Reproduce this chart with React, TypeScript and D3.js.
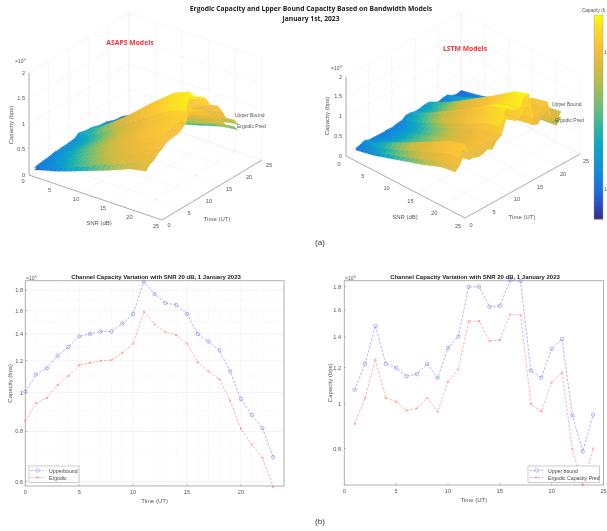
import React from "react";
import * as d3 from "d3";

const title1 = "Ergodic Capacity and Lpper Bound Capacity Based on Bandwidth Models";
const title2 = "January 1st, 2023";
const lineTitle = "Channel Capacity Variation with SNR 20 dB, 1 January 2023";

const snrRows = [1, 5, 10, 15, 19, 22];
const hoursA = d3.range(0, 24);
const hoursB = d3.range(1, 25);

// Line charts (x 10^9 bps)
const upperA = [1.005,1.11,1.15,1.236,1.30,1.38,1.40,1.42,1.42,1.486,1.57,1.89,1.76,1.67,1.654,1.57,1.40,1.34,1.275,1.13,0.964,0.88,0.815,0.69];
const ergodicA = [0.85,0.94,0.97,1.045,1.10,1.17,1.186,1.20,1.205,1.256,1.325,1.59,1.48,1.414,1.39,1.325,1.19,1.13,1.08,0.955,0.813,0.742,0.687,0.582];
const upperB = [1.074,1.224,1.48,1.224,1.20,1.15,1.162,1.222,1.141,1.324,1.403,1.80,1.80,1.628,1.636,1.857,1.851,1.182,1.141,1.319,1.385,0.945,0.789,0.948];
const ergodicB = [0.906,1.03,1.25,1.032,1.012,0.969,0.979,1.03,0.962,1.118,1.19,1.515,1.515,1.373,1.378,1.567,1.562,1.0,0.964,1.115,1.17,0.798,0.667,0.80];

// Surfaces: one row per SNR value
const asapsUpper = [
  [.18,.20,.21,.22,.23,.25,.25,.26,.26,.27,.28,.34,.32,.30,.30,.28,.25,.24,.23,.20,.17,.16,.15,.12],
  [.31,.34,.36,.38,.40,.43,.43,.44,.44,.46,.49,.59,.55,.52,.51,.49,.43,.42,.40,.35,.30,.27,.25,.21],
  [.52,.58,.60,.64,.68,.72,.73,.74,.74,.77,.82,.98,.92,.87,.86,.82,.73,.70,.67,.59,.50,.46,.43,.36],
  [.76,.84,.87,.94,.98,1.04,1.06,1.07,1.07,1.12,1.19,1.43,1.33,1.26,1.25,1.19,1.06,1.01,.97,.85,.72,.66,.62,.52],
  [.93,1.03,1.07,1.15,1.21,1.28,1.30,1.32,1.32,1.38,1.46,1.76,1.64,1.55,1.53,1.46,1.30,1.25,1.19,1.05,.89,.82,.76,.64],
  [1.00,1.11,1.15,1.24,1.30,1.38,1.40,1.42,1.42,1.49,1.57,1.89,1.76,1.67,1.65,1.57,1.40,1.34,1.28,1.13,.96,.88,.82,.69],
];
const asapsErgodic = [
  [.14,.16,.16,.18,.19,.20,.20,.20,.21,.21,.23,.27,.25,.24,.24,.23,.20,.19,.18,.16,.14,.13,.12,.10],
  [.25,.27,.28,.30,.32,.34,.35,.35,.35,.37,.39,.46,.43,.41,.40,.39,.35,.33,.31,.28,.23,.21,.20,.17],
  [.43,.47,.49,.53,.55,.59,.60,.60,.61,.63,.67,.80,.74,.71,.70,.67,.60,.57,.54,.48,.41,.37,.35,.29],
  [.62,.69,.71,.77,.80,.85,.87,.88,.88,.92,.97,1.16,1.08,1.03,1.01,.97,.87,.82,.79,.70,.59,.54,.50,.42],
  [.79,.87,.90,.98,1.02,1.09,1.11,1.12,1.13,1.17,1.24,1.48,1.38,1.31,1.29,1.24,1.11,1.05,1.00,.89,.75,.69,.64,.54],
  [.85,.94,.97,1.05,1.10,1.17,1.19,1.20,1.21,1.26,1.33,1.59,1.48,1.41,1.39,1.33,1.19,1.13,1.08,.96,.81,.74,.69,.58],
];
const lstmUpper = [
  [.19,.22,.27,.22,.22,.21,.21,.22,.21,.24,.25,.32,.32,.29,.30,.33,.33,.21,.21,.24,.25,.17,.14,.17],
  [.33,.38,.46,.38,.37,.36,.36,.38,.35,.41,.43,.56,.56,.51,.51,.58,.57,.37,.35,.41,.43,.29,.24,.29],
  [.56,.63,.77,.63,.62,.60,.60,.63,.59,.69,.73,.94,.94,.85,.85,.97,.96,.61,.59,.69,.72,.49,.41,.49],
  [.79,.90,1.10,.90,.89,.85,.86,.90,.84,.98,1.04,1.33,1.33,1.21,1.21,1.38,1.37,.87,.84,.98,1.03,.70,.58,.70],
  [1.00,1.13,1.38,1.13,1.12,1.07,1.08,1.13,1.06,1.23,1.30,1.67,1.67,1.52,1.53,1.73,1.72,1.10,1.06,1.23,1.29,.88,.73,.88],
  [1.07,1.22,1.48,1.22,1.20,1.15,1.16,1.22,1.14,1.32,1.40,1.80,1.80,1.63,1.64,1.86,1.85,1.18,1.14,1.32,1.39,.95,.79,.95],
];
const lstmErgodic = [
  [.15,.18,.21,.18,.17,.16,.17,.18,.16,.19,.20,.26,.26,.23,.23,.27,.27,.17,.16,.19,.20,.14,.11,.14],
  [.26,.30,.36,.30,.29,.28,.28,.30,.28,.32,.35,.44,.44,.40,.40,.46,.45,.29,.28,.32,.34,.23,.19,.23],
  [.46,.52,.63,.52,.51,.49,.49,.52,.48,.56,.60,.76,.76,.69,.69,.79,.78,.50,.48,.56,.59,.40,.34,.40],
  [.66,.75,.91,.75,.74,.71,.72,.75,.70,.82,.87,1.11,1.11,1.00,1.01,1.15,1.14,.73,.70,.82,.85,.58,.49,.58],
  [.85,.96,1.16,.96,.94,.90,.91,.96,.89,1.04,1.11,1.41,1.41,1.27,1.28,1.46,1.45,.93,.89,1.04,1.09,.74,.62,.74],
  [.91,1.03,1.25,1.03,1.01,.97,.98,1.03,.96,1.12,1.19,1.52,1.52,1.37,1.38,1.57,1.56,1.00,.96,1.12,1.17,.80,.67,.80],
];

const axis3dTicks = [0, 5, 10, 15, 20, 25];
const zTicks = [0, 0.5, 1, 1.5, 2];
const logTicks = [0.6, 0.8, 1, 1.2, 1.4, 1.6, 1.8];
const logMinor = [0.6, 0.7, 0.8, 0.9, 1, 1.1, 1.2, 1.3, 1.4, 1.5, 1.6, 1.7, 1.8];

const parulaStops = ["#352a87","#2c58d8","#0f7fe0","#1496d4","#06a9c1","#32b7a0","#6bbf7a","#a3bd55","#d1ba3c","#f8ba3e","#fcd22f","#f9fb0e"];
const parula = d3.interpolateRgbBasis(parulaStops);
const colorDomain = [0.1, 0.18, 0.3, 0.45, 0.6, 0.8, 1.2, 1.5, 1.85];
const colorRange = [0.08, 0.15, 0.25, 0.42, 0.56, 0.72, 0.83, 0.9, 1];
const logPos = d3.scaleLog().domain(colorDomain).range(colorRange).clamp(true);
const colorOf = (z: number) => parula(logPos(z));

const FONT = "'Liberation Sans', Arial, sans-serif";
const TXT = "#555";

type Box3 = {
  ox: number; oy: number; sx: number; sy: number; tx: number; ty: number; zk: number;
  snrOff: [number, number]; timeOff: [number, number]; zLabelX: number;
};

function Surface3D({ box, hours, surfaces }: { box: Box3; hours: number[]; surfaces: number[][][] }) {
  const snrX = d3.scaleLinear().domain([0, 25]).range([0, box.sx]);
  const snrY = d3.scaleLinear().domain([0, 25]).range([0, box.sy]);
  const timeX = d3.scaleLinear().domain([0, 25]).range([0, box.tx]);
  const timeY = d3.scaleLinear().domain([0, 25]).range([0, box.ty]);
  const zY = d3.scaleLinear().domain([0, 2]).range([0, box.zk]);
  const P = (s: number, t: number, z: number): [number, number] => [
    box.ox + snrX(s) + timeX(t),
    box.oy + snrY(s) + timeY(t) - zY(z),
  ];
  const ln = (a: [number, number], b: [number, number], stroke: string, key: string, w = 0.6) => (
    <line key={key} x1={a[0]} y1={a[1]} x2={b[0]} y2={b[1]} stroke={stroke} strokeWidth={w} />
  );
  const grid = "#f0f0f0";
  const gridEls: React.ReactNode[] = [];
  axis3dTicks.forEach((v) => {
    gridEls.push(ln(P(v, 0, 0), P(v, 25, 0), grid, `fs${v}`));
    gridEls.push(ln(P(0, v, 0), P(25, v, 0), grid, `ft${v}`));
    gridEls.push(ln(P(0, v, 0), P(0, v, 2), grid, `wt${v}`));
    gridEls.push(ln(P(v, 25, 0), P(v, 25, 2), grid, `ws${v}`));
  });
  zTicks.forEach((z) => {
    gridEls.push(ln(P(0, 0, z), P(0, 25, z), grid, `zl${z}`));
    gridEls.push(ln(P(0, 25, z), P(25, 25, z), grid, `zr${z}`));
  });

  type Facet = { d: string; fill: string; key: number };
  const facets: Facet[] = [];
  const path = d3.line();
  const snrSteps = 5;
  surfaces.forEach((rows, si) => {
    for (let r = 0; r < snrRows.length - 1; r++) {
      for (let c = 0; c < hours.length - 1; c++) {
        for (let k = 0; k < snrSteps; k++) {
          const f0 = k / snrSteps, f1 = (k + 1) / snrSteps;
          const s0 = d3.interpolateNumber(snrRows[r], snrRows[r + 1])(f0);
          const s1 = d3.interpolateNumber(snrRows[r], snrRows[r + 1])(f1);
          const z00 = d3.interpolateNumber(rows[r][c], rows[r + 1][c])(f0);
          const z10 = d3.interpolateNumber(rows[r][c], rows[r + 1][c])(f1);
          const z01 = d3.interpolateNumber(rows[r][c + 1], rows[r + 1][c + 1])(f0);
          const z11 = d3.interpolateNumber(rows[r][c + 1], rows[r + 1][c + 1])(f1);
          const d = path([
            P(s0, hours[c], z00), P(s1, hours[c], z10),
            P(s1, hours[c + 1], z11), P(s0, hours[c + 1], z01),
          ])! + "Z";
          facets.push({
            d,
            fill: colorOf((z00 + z10 + z01 + z11) / 4),
            key: hours[c] - (s0 * 22) / 24 - si * 0.001,
          });
        }
      }
    }
  });
  facets.sort((a, b) => b.key - a.key);

  const axisColor = "#9a9a9a";
  const txt = (x: number, y: number, s: React.ReactNode, anchor = "middle", key?: string) => (
    <text key={key} x={x} y={y} fontSize={5.6} fill={TXT} textAnchor={anchor as any} fontFamily={FONT}>{s}</text>
  );
  return (
    <g>
      {gridEls}
      {ln(P(0, 0, 0), P(25, 0, 0), axisColor, "axS", 0.8)}
      {ln(P(25, 0, 0), P(25, 25, 0), axisColor, "axT", 0.8)}
      {ln(P(0, 0, 0), P(0, 0, 2), axisColor, "axZ", 0.8)}
      {axis3dTicks.map((v) => {
        const a = P(v, 0, 0);
        const b = P(25, v, 0);
        return (
          <g key={v}>
            {txt(a[0] + box.snrOff[0], a[1] + box.snrOff[1], v, "middle")}
            {txt(b[0] + box.timeOff[0], b[1] + box.timeOff[1], v, "middle")}
          </g>
        );
      })}
      {zTicks.map((z) => txt(box.zLabelX, P(0, 0, z)[1] + 1.5, z, "end", `z${z}`))}
      {facets.map((f, i) => (
        <path key={i} d={f.d} fill={f.fill} stroke={f.fill} strokeWidth={0.25} />
      ))}
    </g>
  );
}

const boxA: Box3 = { ox: 29, oy: 175, sx: 133, sy: 45, tx: 100, ty: -60, zk: 102, snrOff: [-6, 8], timeOff: [7, 7], zLabelX: 25 };
const boxB: Box3 = { ox: 346, oy: 156, sx: 119, sy: 62, tx: 115, ty: -64, zk: 79, snrOff: [-7, 9.5], timeOff: [6, 9], zLabelX: 342 };

function Exp({ x, y }: { x: number; y: number }) {
  return (
    <text x={x} y={y} fontSize={5} fill={TXT} fontFamily={FONT}>
      ×10<tspan dy={-2} fontSize={3.8}>9</tspan>
    </text>
  );
}

type LineProps = {
  x0: number; x1: number; y0: number; y1: number;
  xMax: number; yDom: [number, number]; hours: number[];
  upper: number[]; ergodic: number[]; grid: boolean;
  labels: [string, string]; legend: [number, number, number, number];
  titleX: number; expX: number; ylabelX: number; tickX: number;
};

function LineChart(p: LineProps) {
  const x = d3.scaleLinear().domain([0, p.xMax]).range([p.x0, p.x1]);
  const y = d3.scaleLog().domain(p.yDom).range([p.y1, p.y0]);
  const line = d3.line<number>().x((_, i) => x(p.hours[i])).y((d) => y(d));
  const xTicks = d3.range(0, p.xMax + 1, 5);
  const yTicks = logTicks.filter((v) => v >= p.yDom[0] && v <= p.yDom[1]);
  const blue = "#7d7df0";
  const red = "#ff7a7a";
  const [lx, ly, lw, lh] = p.legend;
  return (
    <g>
      {p.grid && (
        <g>
          {d3.range(0, p.xMax + 1).map((v) => (
            <line key={v} x1={x(v)} x2={x(v)} y1={p.y0} y2={p.y1} stroke={v % 5 === 0 ? "#ececec" : "#f6f6f6"} strokeWidth={0.6} />
          ))}
          {logMinor.map((v) => (
            <line key={v} y1={y(v)} y2={y(v)} x1={p.x0} x2={p.x1} stroke={logTicks.includes(v) ? "#ececec" : "#f6f6f6"} strokeWidth={0.6} />
          ))}
        </g>
      )}
      <rect x={p.x0} y={p.y0} width={p.x1 - p.x0} height={p.y1 - p.y0} fill="none" stroke="#a8a8a8" strokeWidth={0.9} />
      {xTicks.map((v) => (
        <g key={v}>
          <line x1={x(v)} x2={x(v)} y1={p.y1} y2={p.y1 - 2} stroke="#888" strokeWidth={0.5} />
          <text x={x(v)} y={p.y1 + 7.5} fontSize={5.6} fill={TXT} textAnchor="middle" fontFamily={FONT}>{v}</text>
        </g>
      ))}
      {yTicks.map((v) => (
        <g key={v}>
          <line x1={p.x0} x2={p.x0 + 2} y1={y(v)} y2={y(v)} stroke="#888" strokeWidth={0.5} />
          <text x={p.tickX} y={y(v) + 2} fontSize={5.6} fill={TXT} textAnchor="end" fontFamily={FONT}>{v}</text>
        </g>
      ))}
      <path d={line(p.upper)!} fill="none" stroke={blue} strokeWidth={0.6} strokeDasharray="2.5 1.5" />
      <path d={line(p.ergodic)!} fill="none" stroke={red} strokeWidth={0.6} strokeDasharray="2.5 1.5" />
      {p.upper.map((v, i) => (
        <circle key={i} cx={x(p.hours[i])} cy={y(v)} r={1.7} fill="none" stroke={blue} strokeWidth={0.6} />
      ))}
      {p.ergodic.map((v, i) => (
        <path key={i} d={d3.symbol(d3.symbolTimes, 3)()!} transform={`translate(${x(p.hours[i])},${y(v)})`} fill="none" stroke={red} strokeWidth={0.7} />
      ))}
      <text x={p.titleX} y={p.y0 - 1.5} fontSize={6} fontWeight="bold" fill="#222" textAnchor="middle" fontFamily={FONT}>{lineTitle}</text>
      <Exp x={p.expX} y={p.y0 - 0.7} />
      <text x={(p.x0 + p.x1) / 2} y={p.y1 + 16.5} fontSize={6} fill={TXT} textAnchor="middle" fontFamily={FONT}>Time (UT)</text>
      <text transform={`translate(${p.ylabelX},${(p.y0 + p.y1) / 2}) rotate(-90)`} fontSize={6} fill={TXT} textAnchor="middle" fontFamily={FONT}>Capacity (bps)</text>
      <rect x={lx} y={ly} width={lw} height={lh} fill="#fff" stroke="#aaa" strokeWidth={0.6} />
      <line x1={lx + 1.5} x2={lx + 15} y1={ly + 4.5} y2={ly + 4.5} stroke={blue} strokeWidth={0.6} strokeDasharray="2.5 1.5" />
      <circle cx={lx + 8.5} cy={ly + 4.5} r={1.7} fill="#fff" stroke={blue} strokeWidth={0.6} />
      <line x1={lx + 1.5} x2={lx + 15} y1={ly + 11.5} y2={ly + 11.5} stroke={red} strokeWidth={0.6} strokeDasharray="2.5 1.5" />
      <path d={d3.symbol(d3.symbolTimes, 3)()!} transform={`translate(${lx + 8.5},${ly + 11.5})`} fill="none" stroke={red} strokeWidth={0.7} />
      <text x={lx + 20} y={ly + 6.5} fontSize={5.2} fill="#444" fontFamily={FONT}>{p.labels[0]}</text>
      <text x={lx + 20} y={ly + 13.5} fontSize={5.2} fill="#444" fontFamily={FONT}>{p.labels[1]}</text>
    </g>
  );
}

function Colorbar() {
  const top = 15, bottom = 219, left = 594, right = 603;
  const pos = d3.scaleLinear().domain([bottom, top]).range([0, 1]);
  const rows = d3.range(top, bottom, 2);
  return (
    <g>
      {rows.map((yy) => (
        <rect key={yy} x={left} y={yy} width={right - left} height={2.4} fill={parula(pos(yy + 1))} />
      ))}
      <rect x={left} y={top} width={right - left} height={bottom - top} fill="none" stroke="#999" strokeWidth={0.4} />
      <text x={582} y={12} fontSize={4.6} fill={TXT} fontFamily={FONT}>Capacity (b</text>
      <text x={604} y={54} fontSize={5} fill={TXT} fontFamily={FONT}>1</text>
      <text x={604} y={191} fontSize={5} fill={TXT} fontFamily={FONT}>1</text>
    </g>
  );
}

export default function App() {
  const t = (x: number, y: number, s: string, o: any = {}) => (
    <text x={x} y={y} fontSize={5.6} fill={TXT} fontFamily={FONT} {...o}>{s}</text>
  );
  return (
    <svg width={607} height={531} style={{ position: "absolute", left: 0, top: 0, background: "#fff", filter: "blur(0.3px)" }}>
      <text x={311} y={11} fontSize={6.75} fontWeight="bold" fill="#222" textAnchor="middle" fontFamily="'Open Sans', sans-serif">{title1}</text>
      <text x={311} y={21} fontSize={6.75} fontWeight="bold" fill="#222" textAnchor="middle" fontFamily="'Open Sans', sans-serif">{title2}</text>

      <Surface3D box={boxA} hours={hoursA} surfaces={[asapsErgodic, asapsUpper]} />
      <Surface3D box={boxB} hours={hoursB} surfaces={[lstmErgodic, lstmUpper]} />
      <Colorbar />

      <text x={130} y={44.5} fontSize={6.8} fontWeight="bold" fill="#f0303c" textAnchor="middle" fontFamily="'Open Sans', sans-serif">ASAPS Models</text>
      <text x={465} y={51} fontSize={6.8} fontWeight="bold" fill="#f0303c" textAnchor="middle" fontFamily="'Open Sans', sans-serif">LSTM Models</text>
      <Exp x={15} y={63} />
      <Exp x={331} y={70} />
      {t(235, 117, "Upper Bound", { fontSize: 5 })}
      {t(237, 128, "Ergodic Pred", { fontSize: 5 })}
      {t(552, 106, "Upper Bound", { fontSize: 5 })}
      {t(555, 122, "Ergodic Pred", { fontSize: 5 })}
      {t(99, 225, "SNR (dB)", { fontSize: 6, textAnchor: "middle" })}
      {t(217, 221, "Time (UT)", { fontSize: 6, textAnchor: "middle" })}
      {t(405, 219, "SNR (dB)", { fontSize: 6, textAnchor: "middle" })}
      {t(522, 219, "Time (UT)", { fontSize: 6, textAnchor: "middle" })}
      {t(0, 0, "Capacity (bps)", { fontSize: 6, textAnchor: "middle", transform: "translate(13,125) rotate(-90)" })}
      {t(0, 0, "Capacity (bps)", { fontSize: 6, textAnchor: "middle", transform: "translate(329,116) rotate(-90)" })}
      <text x={320} y={245} fontSize={8} fill="#333" textAnchor="middle" fontFamily={FONT}>(a)</text>

      <LineChart x0={25.3} x1={284} y0={280.7} y1={486} xMax={24} yDom={[0.585, 1.9]} hours={hoursA}
        upper={upperA} ergodic={ergodicA} grid labels={["Upperbound", "Ergodic"]} legend={[29, 466, 50, 16.5]}
        titleX={156} expX={26} ylabelX={12} tickX={23} />
      <LineChart x0={344.3} x1={603.5} y0={280.7} y1={485} xMax={25} yDom={[0.667, 1.855]} hours={hoursB}
        upper={upperB} ergodic={ergodicB} grid={false} labels={["Upper bound", "Ergodic Capacity Pred"]} legend={[528, 466, 71.5, 16.5]}
        titleX={475} expX={345} ylabelX={332} tickX={341} />
      <text x={320} y={524} fontSize={8} fill="#333" textAnchor="middle" fontFamily={FONT}>(b)</text>
    </svg>
  );
}
